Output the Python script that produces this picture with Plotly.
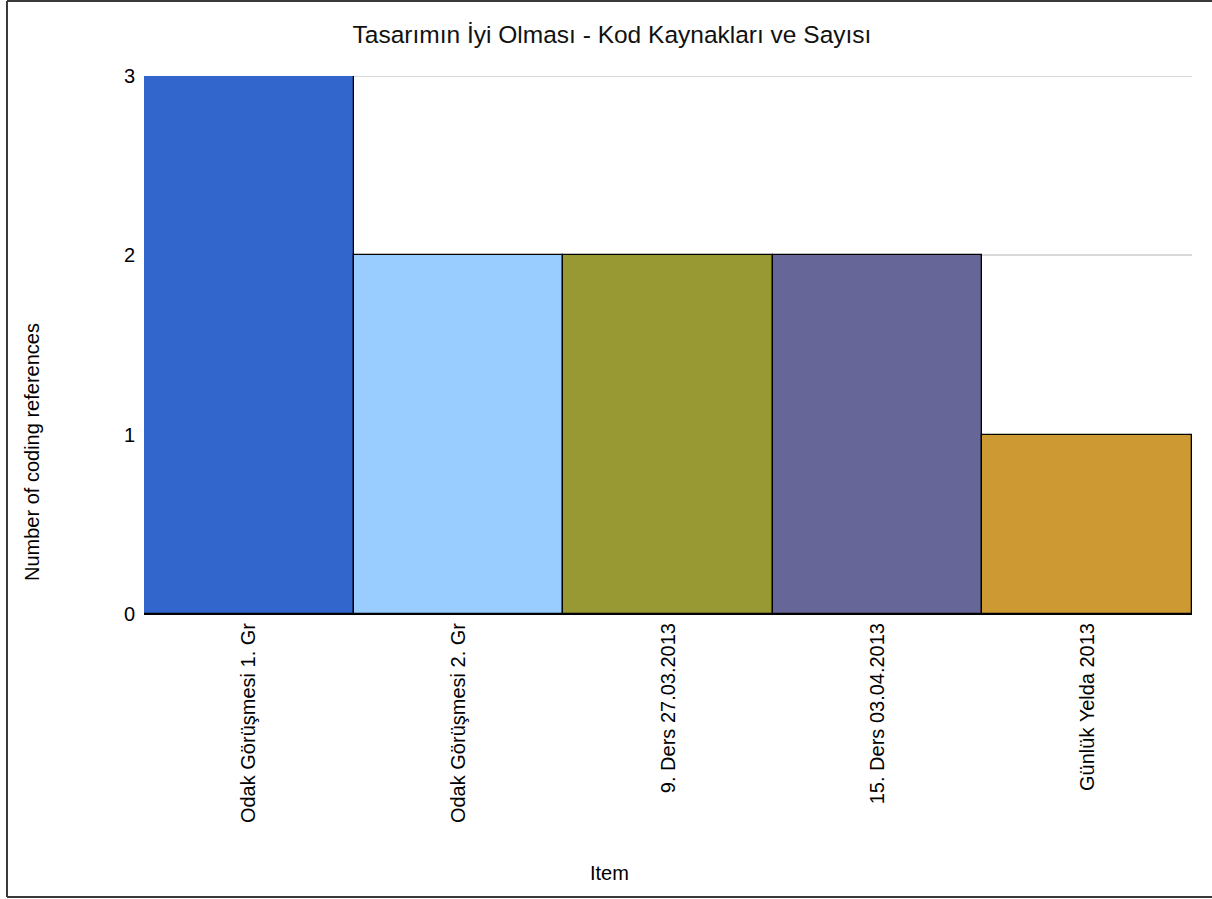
import plotly.graph_objects as go

categories = ["Odak Görüşmesi 1. Gr", "Odak Görüşmesi 2. Gr", "9. Ders 27.03.2013",
              "15. Ders 03.04.2013", "Günlük Yelda 2013"]
values = [3, 2, 2, 2, 1]
colors = ["#3366CC", "#99CCFF", "#999933", "#666699", "#CC9933"]
y_ticks = [0, 1, 2, 3]

W, H = 1212, 899
L, R, T, B = 144, 1192, 76, 614
pw, ph = R - L, B - T

def px(x):
    return (x - L) / pw

def py(y):
    return (B - y) / ph

FONT = "Liberation Sans, Arial, sans-serif"
BORDER = dict(color="#3a3a3a", width=2)
GRID = "#d9d9d9"

fig = go.Figure(go.Bar(
    x=categories, y=values,
    marker=dict(color=colors, line=dict(color="#000000", width=1.3)),
))

fig.update_layout(
    width=W, height=H,
    margin=dict(l=L, r=W - R, t=T, b=H - B, pad=0),
    paper_bgcolor="white", plot_bgcolor="white",
    bargap=0,
    showlegend=False,
    font=dict(family=FONT, size=20, color="#000000"),
    title=dict(text="Tasarımın İyi Olması - Kod Kaynakları ve Sayısı",
               x=612 / W, xanchor="center", y=1 - 34 / H, yanchor="middle",
               font=dict(size=24.5, color="#111111")),
    xaxis=dict(type="category", range=[-0.5, len(categories) - 0.5],
               tickangle=-90, showgrid=False, showline=True, linecolor="#000000",
               linewidth=1, ticks="", zeroline=False, tickfont=dict(size=20),
               automargin=False),
    yaxis=dict(range=[0, max(y_ticks)], tickvals=y_ticks, showgrid=True, gridcolor=GRID,
               gridwidth=2, showline=False, zeroline=False, ticks="",
               ticklabelstandoff=8, tickfont=dict(size=20), automargin=False),
    annotations=[
        dict(text="Number of coding references", xref="paper", yref="paper",
             x=px(32), y=py(452), textangle=-90, showarrow=False,
             xanchor="center", yanchor="middle", font=dict(size=20)),
        dict(text="Item", xref="paper", yref="paper",
             x=px(609), y=py(873), showarrow=False,
             xanchor="center", yanchor="middle", font=dict(size=20)),
    ],
    shapes=[
        dict(type="line", xref="paper", yref="y", layer="below",
             x0=0, x1=1, y0=max(y_ticks), y1=max(y_ticks),
             line=dict(color=GRID, width=2)),
        dict(type="line", xref="paper", yref="paper",
             x0=px(7), x1=px(1212), y0=py(1), y1=py(1), line=BORDER),
        dict(type="line", xref="paper", yref="paper",
             x0=px(7), x1=px(7), y0=py(1), y1=py(897), line=BORDER),
        dict(type="line", xref="paper", yref="paper",
             x0=px(7), x1=px(1212), y0=py(897), y1=py(897), line=BORDER),
    ],
)

fig.write_html("out.html", config={"displayModeBar": False},
               post_script="document.body.style.margin='0';")
